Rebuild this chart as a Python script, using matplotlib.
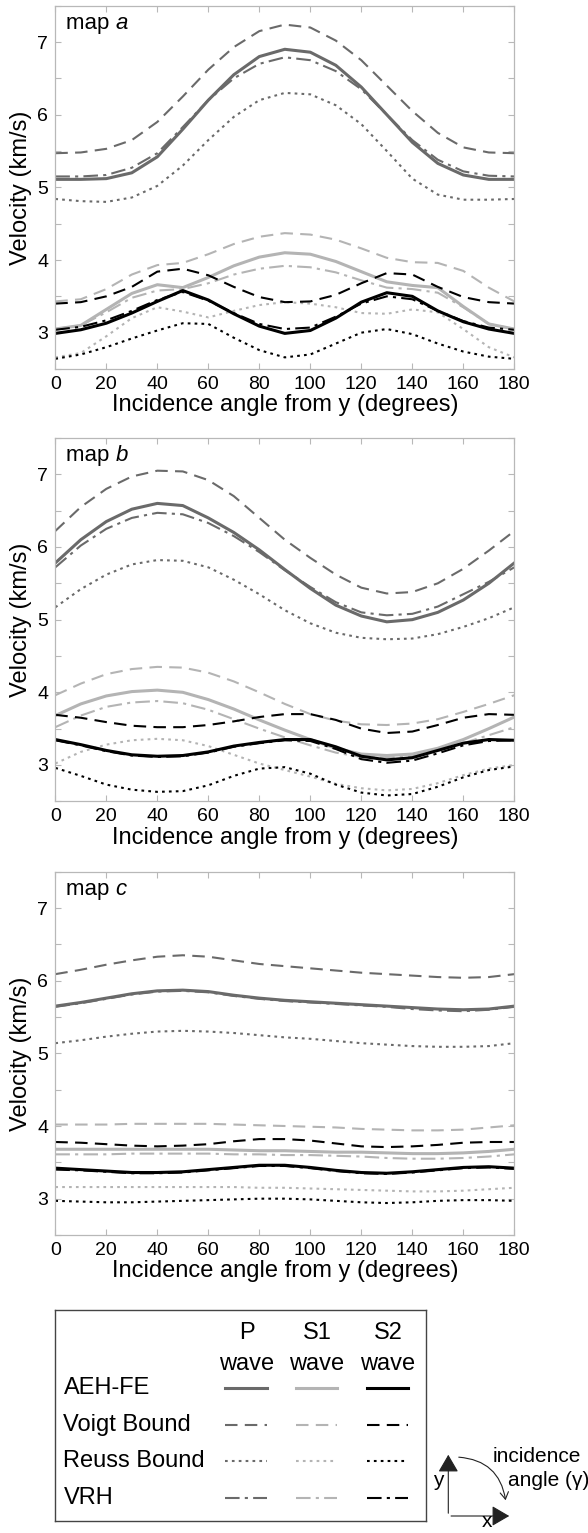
import numpy as np
import matplotlib
matplotlib.use('Agg')
import matplotlib.pyplot as plt
from matplotlib.patches import FancyArrowPatch

plt.rcParams['font.family'] = ['Liberation Sans', 'DejaVu Sans']

# Einfallswinkel (Grad)
angle = [0, 10, 20, 30, 40, 50, 60, 70, 80, 90, 100, 110, 120, 130, 140, 150, 160, 170, 180]

# map a
Pa_aeh = [5.11, 5.11, 5.12, 5.20, 5.42, 5.80, 6.20, 6.55, 6.80, 6.90, 6.86, 6.68, 6.38, 6.00, 5.62, 5.33, 5.17, 5.11, 5.11]
Pa_voigt = [5.47, 5.48, 5.53, 5.65, 5.90, 6.25, 6.62, 6.93, 7.15, 7.24, 7.20, 7.02, 6.75, 6.40, 6.05, 5.75, 5.55, 5.48, 5.47]
Pa_reuss = [4.84, 4.81, 4.80, 4.86, 5.02, 5.30, 5.65, 5.97, 6.20, 6.30, 6.28, 6.13, 5.87, 5.50, 5.12, 4.90, 4.83, 4.83, 4.84]
Pa_vrh = [5.15, 5.15, 5.17, 5.27, 5.47, 5.83, 6.20, 6.50, 6.70, 6.79, 6.75, 6.60, 6.35, 6.00, 5.65, 5.38, 5.22, 5.16, 5.15]
S1a_aeh = [3.05, 3.10, 3.32, 3.54, 3.66, 3.62, 3.76, 3.92, 4.04, 4.10, 4.08, 3.98, 3.84, 3.70, 3.65, 3.62, 3.36, 3.12, 3.05]
S1a_voigt = [3.43, 3.46, 3.60, 3.80, 3.93, 3.96, 4.08, 4.22, 4.32, 4.37, 4.35, 4.28, 4.16, 4.03, 3.97, 3.96, 3.85, 3.62, 3.43]
S1a_reuss = [2.66, 2.72, 2.95, 3.20, 3.35, 3.29, 3.21, 3.30, 3.38, 3.42, 3.40, 3.35, 3.27, 3.26, 3.32, 3.28, 3.05, 2.80, 2.66]
S1a_vrh = [3.05, 3.10, 3.28, 3.48, 3.58, 3.60, 3.68, 3.80, 3.88, 3.92, 3.90, 3.83, 3.72, 3.62, 3.60, 3.55, 3.35, 3.12, 3.05]
S2a_aeh = [2.99, 3.04, 3.13, 3.27, 3.43, 3.58, 3.45, 3.26, 3.09, 2.99, 3.03, 3.20, 3.42, 3.55, 3.50, 3.30, 3.15, 3.05, 2.99]
S2a_voigt = [3.40, 3.42, 3.50, 3.63, 3.84, 3.88, 3.79, 3.63, 3.49, 3.42, 3.43, 3.52, 3.68, 3.82, 3.80, 3.63, 3.49, 3.42, 3.40]
S2a_reuss = [2.64, 2.70, 2.80, 2.92, 3.03, 3.13, 3.12, 2.93, 2.76, 2.66, 2.70, 2.85, 3.00, 3.05, 2.98, 2.85, 2.74, 2.67, 2.64]
S2a_vrh = [3.04, 3.08, 3.17, 3.30, 3.45, 3.56, 3.44, 3.27, 3.12, 3.05, 3.07, 3.22, 3.40, 3.50, 3.46, 3.30, 3.16, 3.07, 3.04]

# map b
Pb_aeh = [5.78, 6.10, 6.35, 6.52, 6.60, 6.57, 6.40, 6.20, 5.96, 5.69, 5.43, 5.20, 5.05, 4.97, 5.00, 5.10, 5.27, 5.50, 5.78]
Pb_voigt = [6.22, 6.55, 6.80, 6.97, 7.05, 7.04, 6.92, 6.70, 6.40, 6.10, 5.85, 5.62, 5.44, 5.36, 5.38, 5.50, 5.70, 5.95, 6.22]
Pb_reuss = [5.17, 5.42, 5.62, 5.76, 5.82, 5.81, 5.72, 5.55, 5.35, 5.13, 4.95, 4.82, 4.75, 4.73, 4.74, 4.80, 4.90, 5.02, 5.17]
Pb_vrh = [5.72, 6.02, 6.25, 6.40, 6.47, 6.45, 6.33, 6.15, 5.93, 5.68, 5.45, 5.24, 5.10, 5.06, 5.08, 5.18, 5.35, 5.52, 5.72]
S1b_aeh = [3.68, 3.84, 3.95, 4.01, 4.03, 4.00, 3.90, 3.77, 3.62, 3.48, 3.35, 3.23, 3.15, 3.13, 3.15, 3.23, 3.35, 3.50, 3.66]
S1b_voigt = [3.96, 4.12, 4.25, 4.32, 4.35, 4.34, 4.27, 4.15, 4.00, 3.84, 3.70, 3.61, 3.56, 3.55, 3.57, 3.63, 3.73, 3.84, 3.96]
S1b_reuss = [3.02, 3.18, 3.28, 3.34, 3.36, 3.34, 3.26, 3.14, 3.02, 2.93, 2.84, 2.74, 2.68, 2.65, 2.67, 2.75, 2.86, 2.95, 3.00]
S1b_vrh = [3.52, 3.68, 3.80, 3.86, 3.88, 3.85, 3.76, 3.63, 3.50, 3.38, 3.27, 3.17, 3.11, 3.10, 3.12, 3.20, 3.30, 3.41, 3.52]
S2b_aeh = [3.35, 3.28, 3.20, 3.14, 3.12, 3.13, 3.18, 3.26, 3.31, 3.35, 3.35, 3.25, 3.12, 3.07, 3.10, 3.20, 3.30, 3.35, 3.34]
S2b_voigt = [3.69, 3.65, 3.59, 3.54, 3.52, 3.52, 3.55, 3.60, 3.66, 3.70, 3.70, 3.62, 3.50, 3.44, 3.46, 3.55, 3.65, 3.70, 3.69]
S2b_reuss = [2.96, 2.85, 2.73, 2.66, 2.63, 2.64, 2.72, 2.85, 2.95, 2.97, 2.88, 2.73, 2.62, 2.58, 2.60, 2.70, 2.83, 2.93, 2.98]
S2b_vrh = [3.34, 3.27, 3.19, 3.13, 3.11, 3.12, 3.17, 3.25, 3.30, 3.34, 3.33, 3.22, 3.08, 3.03, 3.06, 3.16, 3.27, 3.33, 3.34]

# map c
Pc_aeh = [5.65, 5.70, 5.76, 5.82, 5.86, 5.87, 5.85, 5.80, 5.76, 5.73, 5.71, 5.69, 5.67, 5.65, 5.63, 5.61, 5.60, 5.61, 5.65]
Pc_voigt = [6.09, 6.15, 6.22, 6.28, 6.33, 6.35, 6.33, 6.28, 6.23, 6.20, 6.17, 6.14, 6.11, 6.09, 6.07, 6.05, 6.04, 6.05, 6.09]
Pc_reuss = [5.14, 5.18, 5.23, 5.27, 5.30, 5.31, 5.30, 5.28, 5.25, 5.22, 5.20, 5.17, 5.14, 5.12, 5.10, 5.09, 5.09, 5.10, 5.14]
Pc_vrh = [5.64, 5.69, 5.75, 5.81, 5.85, 5.86, 5.84, 5.79, 5.75, 5.72, 5.70, 5.68, 5.66, 5.64, 5.61, 5.59, 5.58, 5.60, 5.64]
S1c_aeh = [3.68, 3.68, 3.68, 3.68, 3.68, 3.68, 3.68, 3.67, 3.66, 3.66, 3.65, 3.64, 3.64, 3.63, 3.62, 3.62, 3.63, 3.65, 3.68]
S1c_voigt = [4.02, 4.02, 4.02, 4.03, 4.03, 4.03, 4.03, 4.02, 4.01, 4.00, 3.99, 3.98, 3.96, 3.95, 3.94, 3.94, 3.95, 3.98, 4.01]
S1c_reuss = [3.16, 3.16, 3.16, 3.16, 3.16, 3.16, 3.16, 3.16, 3.15, 3.15, 3.14, 3.13, 3.12, 3.11, 3.10, 3.10, 3.11, 3.13, 3.15]
S1c_vrh = [3.61, 3.61, 3.61, 3.62, 3.62, 3.62, 3.62, 3.61, 3.61, 3.60, 3.60, 3.59, 3.58, 3.56, 3.55, 3.55, 3.56, 3.58, 3.61]
S2c_aeh = [3.42, 3.40, 3.38, 3.36, 3.36, 3.37, 3.40, 3.43, 3.46, 3.46, 3.43, 3.39, 3.36, 3.35, 3.37, 3.40, 3.43, 3.44, 3.42]
S2c_voigt = [3.78, 3.77, 3.75, 3.73, 3.72, 3.73, 3.75, 3.79, 3.82, 3.82, 3.80, 3.76, 3.72, 3.71, 3.72, 3.74, 3.77, 3.78, 3.78]
S2c_reuss = [2.97, 2.96, 2.95, 2.95, 2.96, 2.97, 2.98, 2.99, 3.00, 3.00, 2.99, 2.97, 2.95, 2.94, 2.95, 2.97, 2.98, 2.98, 2.97]
S2c_vrh = [3.40, 3.39, 3.37, 3.35, 3.35, 3.36, 3.39, 3.42, 3.45, 3.45, 3.42, 3.38, 3.35, 3.34, 3.36, 3.39, 3.42, 3.43, 3.41]

panels = [
    ('a', {'P': [Pa_aeh, Pa_voigt, Pa_reuss, Pa_vrh],
           'S1': [S1a_aeh, S1a_voigt, S1a_reuss, S1a_vrh],
           'S2': [S2a_aeh, S2a_voigt, S2a_reuss, S2a_vrh]}),
    ('b', {'P': [Pb_aeh, Pb_voigt, Pb_reuss, Pb_vrh],
           'S1': [S1b_aeh, S1b_voigt, S1b_reuss, S1b_vrh],
           'S2': [S2b_aeh, S2b_voigt, S2b_reuss, S2b_vrh]}),
    ('c', {'P': [Pc_aeh, Pc_voigt, Pc_reuss, Pc_vrh],
           'S1': [S1c_aeh, S1c_voigt, S1c_reuss, S1c_vrh],
           'S2': [S2c_aeh, S2c_voigt, S2c_reuss, S2c_vrh]}),
]

wave_colors = {'P': '#6a6a6a', 'S1': '#b4b4b4', 'S2': '#000000'}
# AEH-FE, Voigt, Reuss, VRH
styles = [dict(ls='-', lw=2.2),
          dict(ls=(0, (6, 3.5)), lw=1.5),
          dict(ls=(0, (1.3, 2.0)), lw=1.5),
          dict(ls=(0, (7, 2.5, 1.5, 2.5)), lw=1.5)]
method_names = ['AEH-FE', 'Voigt Bound', 'Reuss Bound', 'VRH']
spine_col = '#b8b8b8'

fig = plt.figure(figsize=(5.88, 15.33), dpi=100)
W, H = 588.0, 1533.0
ax_left, ax_w, ax_h = 55.3 / W, 459 / W, 363.3 / H
tops = [5.7, 438.0, 871.7]

for (name, data), top in zip(panels, tops):
    ax = fig.add_axes([ax_left, 1 - (top + 363.3) / H, ax_w, ax_h])
    for wave in ['P', 'S1', 'S2']:
        for k in [1, 2, 3, 0]:
            ax.plot(angle, data[wave][k], color=wave_colors[wave], **styles[k])
    ax.set_xlim(0, 180)
    ax.set_ylim(2.5, 7.5)
    ax.set_xticks(np.arange(0, 181, 20))
    ax.set_yticks([3, 4, 5, 6, 7])
    ax.set_yticks(np.arange(2.5, 7.6, 0.5), minor=True)
    ax.tick_params(which='both', direction='in', top=True, right=True, length=4,
                   color=spine_col, width=0.8, labelsize=14, pad=5)
    for sp in ax.spines.values():
        sp.set_color(spine_col)
        sp.set_linewidth(0.9)
    ax.set_xlabel('Incidence angle from y (degrees)', fontsize=17, labelpad=1)
    ax.set_ylabel('Velocity (km/s)', fontsize=17, labelpad=4)
    t = ax.text(0.023, 0.952, 'map ', transform=ax.transAxes, fontsize=16, va='center', ha='left')
    ax.annotate(name, xy=(1, 0), xycoords=t, va='bottom', ha='left', fontsize=16, style='italic')

# Legende als eigene Box
lg = fig.add_axes([55.5 / W, 1 - 1520.5 / H, 370.5 / W, 210.5 / H])
lg.set_xlim(0, 370.5)
lg.set_ylim(210.5, 0)
lg.set_xticks([])
lg.set_yticks([])
for sp in lg.spines.values():
    sp.set_color('#444444')
    sp.set_linewidth(1.0)
col_x = {'P': (170, 212), 'S1': (241, 282), 'S2': (312, 353)}
for wave, (x0, x1) in col_x.items():
    xc = (x0 + x1) / 2
    lg.text(xc, 23, wave, ha='center', va='center', fontsize=17)
    lg.text(xc, 54, 'wave', ha='center', va='center', fontsize=17)
rows_y = [78, 115, 151, 187.5]
for k, (mname, ry) in enumerate(zip(method_names, rows_y)):
    lg.text(8, ry, mname, ha='left', va='center', fontsize=17)
    for wave, (x0, x1) in col_x.items():
        lg.plot([x0, x1], [ry, ry], color=wave_colors[wave], **styles[k])

# kleines Koordinatensystem mit Einfallswinkel
def fpx(x, y):
    return (x / W, 1 - y / H)

for end in [fpx(448.3, 1452), fpx(512, 1516)]:
    fig.add_artist(FancyArrowPatch(fpx(448.3, 1516), end, transform=fig.transFigure,
                                   arrowstyle='-|>,head_length=6,head_width=3.5',
                                   mutation_scale=1.8, color='#222222', lw=0.8))
fig.add_artist(FancyArrowPatch(fpx(456, 1457), fpx(506, 1503), transform=fig.transFigure,
                               connectionstyle='arc3,rad=-0.42',
                               arrowstyle='->,head_length=2.5,head_width=1.5',
                               mutation_scale=2, color='#222222', lw=0.8))
fig.text(*fpx(438, 1481), 'y', ha='center', va='center', fontsize=15)
fig.text(*fpx(487, 1531), 'x', ha='center', va='bottom', fontsize=15)
fig.text(*fpx(537, 1456), 'incidence', ha='center', va='center', fontsize=15)
fig.text(*fpx(549, 1481), 'angle (\u03b3)', ha='center', va='center', fontsize=15)

fig.savefig('out.png', dpi=100)
